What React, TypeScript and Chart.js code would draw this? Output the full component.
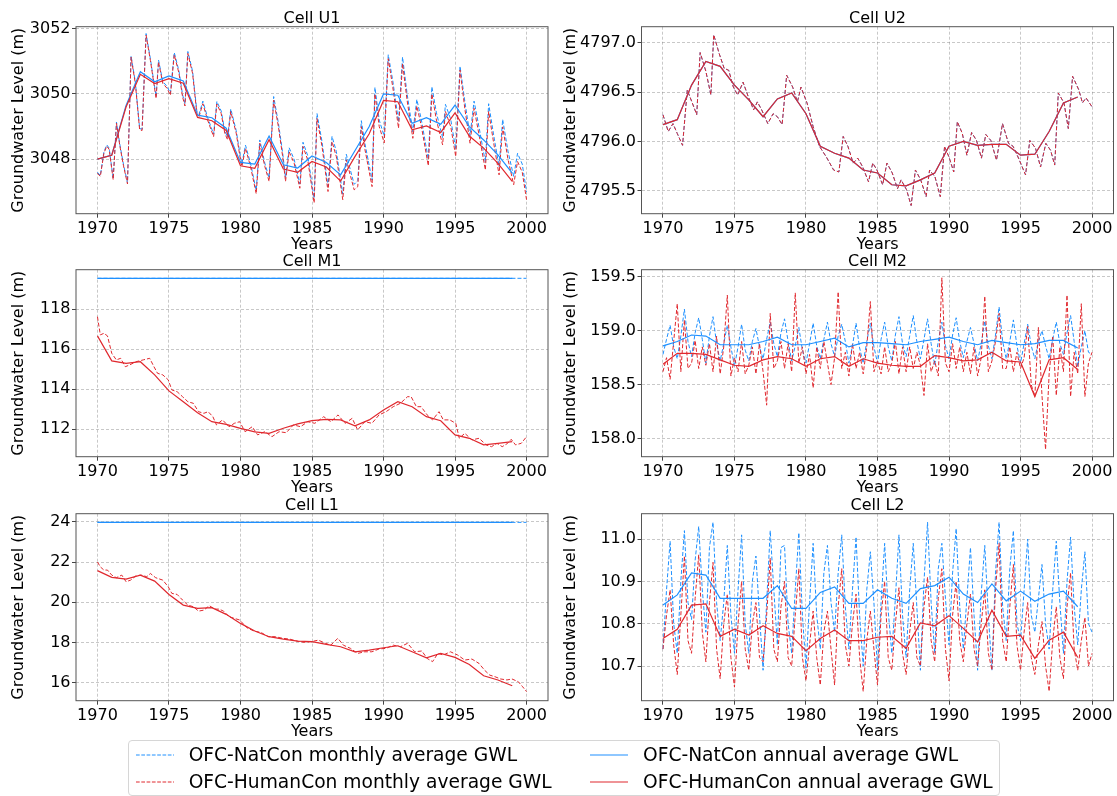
import React, { useEffect, useRef } from "react";
import { Chart, registerables } from "chart.js";

Chart.register(...registerables);

// ---------------- DATA ----------------
const annualYears = [1970, 1971, 1972, 1973, 1974, 1975, 1976, 1977, 1978, 1979, 1980, 1981, 1982, 1983, 1984, 1985, 1986, 1987, 1988, 1989, 1990, 1991, 1992, 1993, 1994, 1995, 1996, 1997, 1998, 1999];
const xTicks = [1970, 1975, 1980, 1985, 1990, 1995, 2000];

// Cell U1
const u1YTicks = [3048, 3050, 3052];
const u1MonthlyTimes = [
  1970.0, 1970.2, 1970.45, 1970.65, 1970.82, 1971.1, 1971.33, 1971.57, 1971.82, 1972.1, 1972.35, 1972.65, 1972.95,
  1973.12, 1973.4, 1973.7, 1974.1, 1974.27, 1974.57, 1974.87, 1975.1, 1975.37, 1975.7, 1975.95, 1976.12, 1976.32,
  1976.65, 1976.95, 1977.1, 1977.37, 1977.7, 1978.12, 1978.35, 1978.65, 1978.9, 1979.1, 1979.32, 1979.7, 1980.0,
  1980.1, 1980.35, 1980.7, 1981.1, 1981.35, 1981.7, 1982.0, 1982.32, 1982.65, 1982.95, 1983.15, 1983.4, 1983.75,
  1984.15, 1984.37, 1984.7, 1985.15, 1985.35, 1985.7, 1986.12, 1986.4, 1986.7, 1987.15, 1987.4, 1987.7, 1987.95,
  1988.2, 1988.45, 1988.7, 1989.2, 1989.4, 1989.7, 1990.05, 1990.33, 1990.65, 1991.05, 1991.33, 1991.65, 1992.05,
  1992.33, 1992.65, 1993.13, 1993.38, 1993.7, 1994.13, 1994.33, 1994.7, 1995.05, 1995.35, 1995.7, 1996.05, 1996.33,
  1996.7, 1997.12, 1997.35, 1997.7, 1998.08, 1998.33, 1998.7, 1999.1, 1999.37, 1999.7, 2000.0,
];
const u1HumMonthly = [
  3047.57, 3047.47, 3048.18, 3048.40, 3048.30, 3047.37, 3049.10, 3048.40, 3047.80, 3047.24, 3051.13, 3050.32, 3048.90,
  3048.88, 3051.80, 3051.03, 3049.86, 3050.98, 3050.32, 3050.17, 3049.96, 3051.20, 3050.63, 3049.91, 3049.63, 3051.24,
  3050.63, 3049.40, 3049.30, 3049.70, 3049.20, 3048.69, 3049.69, 3049.40, 3048.80, 3048.59, 3049.46, 3048.80, 3047.98,
  3047.78, 3048.33, 3047.78, 3046.94, 3048.49, 3047.78, 3047.32, 3049.81, 3049.00, 3048.08, 3047.32, 3048.23, 3047.88,
  3047.11, 3048.39, 3047.98, 3046.66, 3049.25, 3048.39, 3047.01, 3048.54, 3048.08, 3046.76, 3047.98, 3047.47, 3047.06,
  3047.16, 3049.00, 3048.30, 3047.16, 3050.00, 3049.00, 3048.50, 3051.08, 3050.20, 3048.95, 3050.93, 3049.80, 3048.64,
  3049.63, 3049.00, 3047.80, 3050.00, 3049.20, 3048.44, 3049.46, 3049.00, 3048.08, 3050.73, 3049.50, 3048.49, 3049.56,
  3048.70, 3047.67, 3049.46, 3048.50, 3047.52, 3048.99, 3048.00, 3047.22, 3047.93, 3047.60, 3046.76,
];
const u1NatMonthly = [
  3047.60, 3047.50, 3048.22, 3048.44, 3048.34, 3047.40, 3049.14, 3048.44, 3047.84, 3047.28, 3051.17, 3050.36, 3048.94,
  3048.92, 3051.85, 3051.08, 3049.92, 3051.04, 3050.38, 3050.23, 3050.02, 3051.27, 3050.70, 3049.98, 3049.70, 3051.30,
  3050.70, 3049.47, 3049.37, 3049.78, 3049.28, 3048.77, 3049.77, 3049.48, 3048.88, 3048.67, 3049.54, 3048.88, 3048.07,
  3047.87, 3048.43, 3047.88, 3047.04, 3048.59, 3047.88, 3047.43, 3049.92, 3049.11, 3048.19, 3047.44, 3048.35, 3048.00,
  3047.24, 3048.52, 3048.11, 3046.80, 3049.40, 3048.54, 3047.17, 3048.70, 3048.24, 3046.93, 3048.15, 3047.64, 3047.23,
  3047.34, 3049.18, 3048.48, 3047.36, 3050.20, 3049.20, 3048.70, 3051.20, 3050.40, 3049.15, 3051.13, 3050.00, 3048.84,
  3049.83, 3049.20, 3048.00, 3050.22, 3049.42, 3048.66, 3049.68, 3049.22, 3048.30, 3050.85, 3049.72, 3048.72, 3049.78,
  3048.93, 3047.91, 3049.70, 3048.74, 3047.77, 3049.22, 3048.25, 3047.47, 3048.18, 3047.85, 3047.00,
];
const u1NatAnnual = [3048.0, 3048.13, 3049.65, 3050.68, 3050.37, 3050.55, 3050.40, 3049.35, 3049.27, 3048.95, 3047.90, 3047.85, 3048.71, 3047.83, 3047.73, 3048.10, 3047.90, 3047.52, 3048.26, 3049.00, 3050.00, 3049.96, 3049.10, 3049.27, 3049.07, 3049.66, 3049.00, 3048.59, 3048.13, 3047.57];
const u1HumAnnual = [3048.0, 3048.12, 3049.60, 3050.60, 3050.32, 3050.47, 3050.33, 3049.28, 3049.18, 3048.88, 3047.80, 3047.72, 3048.60, 3047.70, 3047.60, 3047.93, 3047.76, 3047.33, 3048.08, 3048.78, 3049.80, 3049.76, 3048.90, 3049.02, 3048.82, 3049.42, 3048.71, 3048.34, 3047.87, 3047.32];

// Cell U2 (both scenarios coincide)
const u2YTicks = [4795.5, 4796.0, 4796.5, 4797.0];
const u2MonthlyTimes = [
  1970.0, 1970.37, 1970.7, 1971.0, 1971.37, 1971.7, 1972.05, 1972.36, 1972.6, 1973.0, 1973.35, 1973.55, 1973.93,
  1974.28, 1974.6, 1974.92, 1975.22, 1975.6, 1975.97, 1976.34, 1976.6, 1976.9, 1977.33, 1977.7, 1978.0, 1978.33,
  1978.65, 1979.07, 1979.4, 1979.65, 1980.07, 1980.5, 1980.94, 1981.43, 1981.93, 1982.3, 1982.6, 1982.93, 1983.3,
  1983.62, 1983.97, 1984.37, 1984.67, 1984.96, 1985.36, 1985.66, 1986.03, 1986.4, 1986.65, 1987.03, 1987.35, 1987.65,
  1988.02, 1988.4, 1988.64, 1989.02, 1989.39, 1989.69, 1990.0, 1990.33, 1990.58, 1990.93, 1991.25, 1991.58, 1991.92,
  1992.27, 1992.57, 1992.92, 1993.32, 1993.74, 1994.16, 1994.48, 1994.86, 1995.35, 1995.65, 1996.05, 1996.4, 1996.77,
  1997.1, 1997.39, 1997.64, 1998.04, 1998.34, 1998.64, 1999.08, 1999.33, 1999.58, 2000.0,
];
const u2Monthly = [
  4796.27, 4796.10, 4796.18, 4796.08, 4795.96, 4796.52, 4796.39, 4796.27, 4796.90, 4796.71, 4796.47, 4797.08, 4796.89,
  4796.74, 4796.72, 4796.55, 4796.47, 4796.60, 4796.45, 4796.32, 4796.40, 4796.32, 4796.18, 4796.28, 4796.25, 4796.17,
  4796.67, 4796.55, 4796.40, 4796.55, 4796.39, 4796.15, 4795.95, 4795.84, 4795.71, 4795.69, 4796.05, 4795.95, 4795.78,
  4795.83, 4795.74, 4795.59, 4795.78, 4795.71, 4795.56, 4795.78, 4795.68, 4795.52, 4795.61, 4795.51, 4795.35, 4795.71,
  4795.61, 4795.44, 4795.71, 4795.64, 4795.44, 4795.95, 4795.84, 4795.69, 4796.20, 4796.08, 4795.86, 4796.09, 4796.01,
  4795.83, 4796.07, 4796.01, 4795.81, 4796.18, 4795.98, 4795.95, 4795.83, 4795.66, 4796.01, 4795.93, 4795.74, 4795.98,
  4795.91, 4795.76, 4796.49, 4796.39, 4796.13, 4796.66, 4796.52, 4796.39, 4796.44, 4796.35,
];
const u2Annual = [4796.17, 4796.22, 4796.57, 4796.81, 4796.76, 4796.57, 4796.42, 4796.25, 4796.43, 4796.49, 4796.28, 4795.95, 4795.88, 4795.83, 4795.71, 4795.68, 4795.56, 4795.55, 4795.61, 4795.68, 4795.95, 4796.00, 4795.96, 4795.97, 4795.97, 4795.86, 4795.87, 4796.10, 4796.39, 4796.45];

// Cell M1
const m1YTicks = [112, 114, 116, 118];
const m1NatLevel = 119.55;
const m1MonthlyTimes = [
  1970.0, 1970.2, 1970.45, 1970.7, 1971.0, 1971.32, 1971.62, 1971.95, 1972.25, 1972.7, 1973.2, 1973.65, 1973.95,
  1974.2, 1974.57, 1974.95, 1975.2, 1975.57, 1975.95, 1976.32, 1976.7, 1977.07, 1977.44, 1977.74, 1978.07, 1978.32,
  1978.74, 1979.2, 1979.57, 1979.94, 1980.32, 1980.82, 1981.2, 1981.7, 1982.2, 1982.7, 1983.2, 1983.7, 1984.2, 1984.7,
  1985.2, 1985.82, 1986.32, 1986.82, 1987.31, 1987.81, 1988.19, 1988.69, 1989.19, 1989.69, 1990.18, 1990.68, 1991.18,
  1991.68, 1991.93, 1992.3, 1992.63, 1993.05, 1993.43, 1993.88, 1994.18, 1994.63, 1995.05, 1995.3, 1995.68, 1996.18,
  1996.68, 1997.18, 1997.55, 1997.93, 1998.3, 1998.68, 1998.93, 1999.23, 1999.63, 2000.0,
];
const m1HumMonthly = [
  117.63, 116.72, 116.80, 116.67, 115.80, 115.47, 115.55, 115.13, 115.22, 115.38, 115.47, 115.55, 115.13,
  114.80, 114.72, 114.47, 113.97, 113.88, 113.63, 113.38, 113.30, 112.88, 112.80, 112.88, 112.63, 112.22,
  112.47, 112.13, 112.30, 112.38, 111.88, 112.13, 111.72, 111.88, 111.63, 111.88, 111.83, 112.22, 112.13, 112.38,
  112.30, 112.63, 112.38, 112.72, 112.30, 112.55, 111.97, 112.38, 112.30, 112.72, 112.88, 113.13, 113.30,
  113.63, 113.63, 113.13, 113.13, 112.72, 112.47, 112.88, 112.47, 112.47, 112.30, 111.55, 111.80, 111.47,
  111.55, 111.22, 111.13, 111.30, 111.13, 111.30, 111.50, 111.22, 111.30, 111.63,
];
const m1HumAnnual = [116.67, 115.42, 115.30, 115.38, 114.72, 113.92, 113.38, 112.83, 112.38, 112.25, 112.05, 111.87, 111.80, 112.05, 112.27, 112.43, 112.50, 112.47, 112.17, 112.47, 112.97, 113.38, 113.13, 112.63, 112.43, 111.72, 111.55, 111.22, 111.30, 111.38];

// Cell M2 (quarterly samples)
const m2YTicks = [158.0, 158.5, 159.0, 159.5];
const m2NatMonthly = [
  158.78, 158.92, 159.05, 158.85, 158.74, 158.95, 159.20, 158.90, 158.76, 158.98, 159.12, 158.92,
  158.70, 158.95, 159.13, 158.88, 158.72, 158.88, 159.05, 158.85, 158.67, 158.85, 159.06, 158.82,
  158.72, 158.90, 159.02, 158.85, 158.74, 158.92, 159.08, 158.88, 158.76, 158.98, 159.11, 158.90,
  158.72, 158.86, 159.03, 158.82, 158.70, 158.88, 159.07, 158.86, 158.74, 158.92, 159.08, 158.88,
  158.76, 158.95, 159.06, 158.90, 158.70, 158.86, 159.07, 158.84, 158.70, 158.90, 159.07, 158.85,
  158.70, 158.92, 159.08, 158.85, 158.72, 158.96, 159.13, 158.88, 158.76, 158.95, 159.14, 158.90,
  158.74, 158.92, 159.11, 158.88, 158.68, 158.90, 159.08, 158.86, 158.74, 158.96, 159.12, 158.90,
  158.75, 158.90, 159.03, 158.88, 158.72, 158.88, 159.09, 158.86, 158.74, 158.96, 159.22, 158.90,
  158.74, 158.90, 159.10, 158.86, 158.70, 158.88, 159.06, 158.86, 158.74, 158.90, 159.00, 158.86,
  158.74, 158.92, 159.08, 158.88, 158.78, 158.98, 159.14, 158.90, 158.67, 158.85, 159.00, 158.80,
  158.78,
];
const m2HumMonthly = [
  158.62, 158.75, 158.55, 158.90, 159.25, 158.62, 159.10, 158.65, 158.70, 158.91, 158.65, 158.85,
  158.68, 158.88, 158.62, 158.95, 158.60, 158.85, 159.33, 158.58, 158.75, 158.62, 158.90, 158.60,
  158.68, 158.85, 158.60, 158.88, 158.62, 158.31, 159.16, 158.65, 158.72, 158.90, 158.65, 158.88,
  158.62, 159.35, 158.70, 158.85, 158.60, 158.78, 158.47, 158.85, 158.65, 158.90, 158.70, 158.50,
  158.75, 159.36, 158.65, 158.80, 158.58, 158.88, 158.65, 158.80, 158.60, 158.85, 159.27, 158.62,
  158.72, 158.60, 158.85, 158.62, 158.70, 158.90, 158.60, 158.85, 158.62, 158.85, 158.65, 158.80,
  158.68, 158.40, 158.88, 158.62, 158.72, 158.58, 159.49, 158.70, 158.62, 158.88, 158.65, 158.85,
  158.62, 158.80, 158.60, 158.85, 158.58, 158.75, 159.32, 158.62, 158.72, 158.90, 159.16, 158.65,
  158.65, 158.85, 158.62, 158.80, 158.65, 158.75, 159.04, 158.50, 158.39, 159.03, 158.40, 157.90,
  158.60, 158.95, 158.40, 158.85, 158.62, 159.33, 158.39, 158.80, 158.60, 159.25, 158.39, 158.70,
  158.80,
];
const m2NatAnnual = [158.86, 158.90, 158.96, 158.95, 158.87, 158.87, 158.87, 158.90, 158.94, 158.87, 158.87, 158.90, 158.93, 158.85, 158.89, 158.89, 158.88, 158.87, 158.90, 158.92, 158.94, 158.90, 158.87, 158.91, 158.89, 158.87, 158.88, 158.91, 158.91, 158.84];
const m2HumAnnual = [158.69, 158.79, 158.79, 158.78, 158.73, 158.68, 158.67, 158.73, 158.76, 158.74, 158.67, 158.74, 158.76, 158.67, 158.74, 158.70, 158.68, 158.67, 158.67, 158.77, 158.75, 158.72, 158.73, 158.80, 158.72, 158.71, 158.39, 158.73, 158.75, 158.64];

// Cell L1
const l1YTicks = [16, 18, 20, 22, 24];
const l1NatLevel = 23.97;
const l1MonthlyTimes = [
  1970.0, 1970.2, 1970.45, 1970.7, 1971.0, 1971.32, 1971.7, 1972.0, 1972.32, 1972.7, 1973.07, 1973.45, 1973.7,
  1974.07, 1974.57, 1974.95, 1975.2, 1975.57, 1975.95, 1976.32, 1976.7, 1977.07, 1977.44, 1977.82, 1978.2, 1978.5,
  1978.82, 1979.2, 1979.57, 1979.94, 1980.44, 1980.94, 1981.44, 1981.94, 1982.44, 1982.94, 1983.44, 1983.94, 1984.44,
  1984.94, 1985.44, 1985.94, 1986.31, 1986.81, 1987.19, 1987.69, 1988.19, 1988.69, 1989.19, 1989.69, 1990.18, 1990.68,
  1991.18, 1991.68, 1992.18, 1992.68, 1993.05, 1993.43, 1993.8, 1994.18, 1994.68, 1995.18, 1995.68, 1996.18, 1996.68,
  1997.06, 1997.43, 1997.8, 1998.18, 1998.63, 1998.98, 1999.43, 1999.73, 2000.0,
];
const l1HumMonthly = [
  22.00, 21.76, 21.60, 21.60, 21.35, 21.22, 21.35, 21.02, 21.10, 21.32, 21.35, 21.27, 21.43,
  21.22, 21.10, 20.77, 20.44, 20.39, 20.11, 19.86, 19.78, 19.56, 19.61, 19.83, 19.66, 19.66,
  19.56, 19.28, 19.20, 19.12, 18.74, 18.57, 18.50, 18.29, 18.29, 18.21, 18.17, 18.07, 18.01,
  18.04, 18.12, 17.96, 17.87, 18.21, 17.87, 17.71, 17.46, 17.54, 17.54, 17.68, 17.71, 17.87,
  17.79, 17.96, 17.54, 17.58, 17.21, 17.05, 17.46, 17.38, 17.54, 17.38, 17.13, 17.18, 16.96,
  16.63, 16.38, 16.30, 16.19, 16.14, 16.19, 16.05, 15.80, 15.56,
];
const l1HumAnnual = [21.57, 21.24, 21.15, 21.35, 21.05, 20.39, 19.86, 19.70, 19.73, 19.40, 18.95, 18.57, 18.29, 18.17, 18.07, 18.04, 17.91, 17.79, 17.54, 17.62, 17.74, 17.84, 17.54, 17.24, 17.46, 17.26, 16.91, 16.35, 16.14, 15.85];

// Cell L2 (quarterly samples)
const l2YTicks = [10.7, 10.8, 10.9, 11.0];
const l2NatMonthly = [
  10.74, 10.88, 10.995, 10.80, 10.73, 10.90, 11.02, 10.85, 10.81, 10.95, 11.03, 10.88,
  10.78, 10.98, 11.04, 10.85, 10.76, 10.85, 10.985, 10.82, 10.73, 10.88, 11.01, 10.80,
  10.73, 10.90, 10.96, 10.82, 10.69, 10.85, 11.02, 10.88, 10.75, 10.98, 10.985, 10.80,
  10.73, 10.88, 11.015, 10.82, 10.695, 10.85, 10.99, 10.82, 10.74, 10.92, 10.985, 10.85,
  10.78, 10.92, 11.01, 10.84, 10.74, 10.88, 11.005, 10.82, 10.70, 10.88, 10.97, 10.85,
  10.69, 10.85, 10.99, 10.83, 10.73, 10.86, 11.01, 10.82, 10.72, 10.88, 10.99, 10.84,
  10.69, 10.90, 11.04, 10.85, 10.73, 10.93, 10.99, 10.86, 10.75, 10.92, 11.025, 10.84,
  10.74, 10.86, 10.98, 10.82, 10.69, 10.87, 10.985, 10.82, 10.69, 10.92, 11.04, 10.84,
  10.76, 10.93, 11.02, 10.80, 10.76, 10.88, 11.00, 10.82, 10.78, 10.86, 10.94, 10.80,
  10.74, 10.88, 10.995, 10.85, 10.73, 10.90, 11.005, 10.84, 10.75, 10.88, 10.97, 10.80,
  10.78,
];
const l2HumMonthly = [
  10.74, 10.82, 10.88, 10.75, 10.68, 10.82, 10.96, 10.76, 10.73, 10.86, 10.963, 10.78,
  10.71, 10.85, 10.945, 10.74, 10.67, 10.80, 10.87, 10.72, 10.65, 10.80, 10.90, 10.74,
  10.69, 10.80, 10.85, 10.72, 10.71, 10.82, 10.955, 10.74, 10.71, 10.84, 10.90, 10.72,
  10.70, 10.82, 10.93, 10.72, 10.665, 10.75, 10.83, 10.72, 10.655, 10.78, 10.83, 10.74,
  10.655, 10.84, 10.93, 10.75, 10.70, 10.80, 10.87, 10.72, 10.64, 10.76, 10.83, 10.74,
  10.655, 10.82, 10.90, 10.72, 10.69, 10.80, 10.885, 10.73, 10.68, 10.78, 10.85, 10.72,
  10.70, 10.84, 10.91, 10.76, 10.71, 10.86, 10.93, 10.74, 10.665, 10.82, 10.90, 10.76,
  10.71, 10.80, 10.87, 10.74, 10.70, 10.80, 10.88, 10.73, 10.69, 10.88, 10.99, 10.76,
  10.71, 10.84, 10.94, 10.75, 10.69, 10.78, 10.85, 10.72, 10.68, 10.75, 10.805, 10.70,
  10.64, 10.76, 10.84, 10.72, 10.67, 10.84, 10.92, 10.74, 10.69, 10.76, 10.815, 10.70,
  10.73,
];
const l2NatAnnual = [10.844, 10.868, 10.92, 10.915, 10.86, 10.86, 10.86, 10.86, 10.89, 10.836, 10.836, 10.874, 10.887, 10.848, 10.848, 10.88, 10.86, 10.848, 10.883, 10.89, 10.91, 10.87, 10.85, 10.894, 10.854, 10.877, 10.853, 10.87, 10.877, 10.84];
const l2HumAnnual = [10.765, 10.787, 10.844, 10.847, 10.77, 10.787, 10.773, 10.795, 10.777, 10.77, 10.736, 10.765, 10.785, 10.76, 10.76, 10.768, 10.77, 10.742, 10.802, 10.795, 10.819, 10.789, 10.757, 10.832, 10.77, 10.773, 10.718, 10.761, 10.78, 10.72];

const quarterTimes = Array.from({ length: 121 }, (_, i) => 1970 + i / 4);

const legendLabels = [
  "OFC-NatCon monthly average GWL",
  "OFC-HumanCon monthly average GWL",
  "OFC-NatCon annual average GWL",
  "OFC-HumanCon annual average GWL",
];

// ---------------- STYLE / LAYOUT ----------------
const BLUE = "#1E90FF";
const RED = "#E0282E";
const FONT = "'DejaVu Sans', sans-serif";

const COLS = [
  { left: 0, width: 558, yAxisW: 76, padRight: 10, yTitlePad: 8.9 },
  { left: 555, width: 562, yAxisW: 86.5, padRight: 3.5, yTitlePad: 5.9 },
];
const ROW_TOPS = [0, 243, 487];
const CANVAS_H = 254;

const xy = (xs: number[], ys: number[]) => xs.map((x, i) => ({ x, y: ys[i] }));
const flat = (xs: number[], v: number) => xs.map((x) => ({ x, y: v }));

type PanelCfg = {
  title: string;
  col: number;
  row: number;
  yMin: number;
  yMax: number;
  yTicks: number[];
  dec: number;
  natMonthly: { x: number; y: number }[];
  humMonthly: { x: number; y: number }[];
  natAnnual: { x: number; y: number }[];
  humAnnual: { x: number; y: number }[];
};

const panels: PanelCfg[] = [
  {
    title: "Cell U1", col: 0, row: 0, yMin: 3046.33, yMax: 3052.06, yTicks: u1YTicks, dec: 0,
    natMonthly: xy(u1MonthlyTimes, u1NatMonthly), humMonthly: xy(u1MonthlyTimes, u1HumMonthly),
    natAnnual: xy(annualYears, u1NatAnnual), humAnnual: xy(annualYears, u1HumAnnual),
  },
  {
    title: "Cell U2", col: 1, row: 0, yMin: 4795.267, yMax: 4797.162, yTicks: u2YTicks, dec: 1,
    natMonthly: xy(u2MonthlyTimes, u2Monthly), humMonthly: xy(u2MonthlyTimes, u2Monthly),
    natAnnual: xy(annualYears, u2Annual), humAnnual: xy(annualYears, u2Annual),
  },
  {
    title: "Cell M1", col: 0, row: 1, yMin: 110.63, yMax: 119.98, yTicks: m1YTicks, dec: 0,
    natMonthly: flat([1970, 2000], m1NatLevel), humMonthly: xy(m1MonthlyTimes, m1HumMonthly),
    natAnnual: flat(annualYears, m1NatLevel), humAnnual: xy(annualYears, m1HumAnnual),
  },
  {
    title: "Cell M2", col: 1, row: 1, yMin: 157.833, yMax: 159.565, yTicks: m2YTicks, dec: 1,
    natMonthly: xy(quarterTimes, m2NatMonthly), humMonthly: xy(quarterTimes, m2HumMonthly),
    natAnnual: xy(annualYears, m2NatAnnual), humAnnual: xy(annualYears, m2HumAnnual),
  },
  {
    title: "Cell L1", col: 0, row: 2, yMin: 15.11, yMax: 24.4, yTicks: l1YTicks, dec: 0,
    natMonthly: flat([1970, 2000], l1NatLevel), humMonthly: xy(l1MonthlyTimes, l1HumMonthly),
    natAnnual: flat(annualYears, l1NatLevel), humAnnual: xy(annualYears, l1HumAnnual),
  },
  {
    title: "Cell L2", col: 1, row: 2, yMin: 10.618, yMax: 11.06, yTicks: l2YTicks, dec: 1,
    natMonthly: xy(quarterTimes, l2NatMonthly), humMonthly: xy(quarterTimes, l2HumMonthly),
    natAnnual: xy(annualYears, l2NatAnnual), humAnnual: xy(annualYears, l2HumAnnual),
  },
];

const framePlugin = {
  id: "frame",
  afterDatasetsDraw(chart: any) {
    const { ctx, chartArea } = chart;
    const { left, top, right, bottom } = chartArea;
    ctx.save();
    ctx.strokeStyle = "#555";
    ctx.lineWidth = 1;
    ctx.setLineDash([]);
    ctx.strokeRect(left, top, right - left, bottom - top);
    ctx.restore();
  },
};

const gridOpts = {
  color: "rgba(128,128,128,0.55)",
  lineWidth: 0.8,
  drawTicks: true,
  tickLength: 4,
  tickColor: "#444",
  tickWidth: 1,
  tickBorderDash: [],
};

function buildConfig(p: PanelCfg): any {
  const col = COLS[p.col];
  const line = (data: any, color: string, dashed: boolean, order: number) => ({
    data,
    borderColor: color,
    borderWidth: dashed ? 1 : 1.2,
    borderDash: dashed ? [4, 2] : [],
    pointRadius: 0,
    fill: false,
    tension: 0,
    order,
  });
  return {
    type: "line",
    data: {
      datasets: [
        line(p.natMonthly, BLUE, true, 4),
        line(p.humMonthly, RED, true, 3),
        line(p.natAnnual, BLUE, false, 2),
        line(p.humAnnual, RED, false, 1),
      ],
    },
    options: {
      responsive: false,
      animation: false,
      devicePixelRatio: 1,
      layout: { padding: { left: 0, right: col.padRight, top: 0, bottom: 0 } },
      plugins: {
        legend: { display: false },
        tooltip: { enabled: false },
        title: {
          display: true,
          text: p.title,
          fullSize: false,
          color: "#000",
          font: { family: FONT, size: 16, weight: "normal", lineHeight: 1 },
          padding: { top: 10.7, bottom: 0 },
        },
      },
      scales: {
        x: {
          type: "linear",
          min: 1968.5,
          max: 2001.5,
          afterBuildTicks: (s: any) => {
            s.ticks = xTicks.map((v) => ({ value: v }));
          },
          afterFit: (s: any) => {
            s.height = 40.3;
          },
          ticks: {
            callback: (v: any) => String(v),
            color: "#000",
            font: { family: FONT, size: 16 },
            padding: 2,
            maxRotation: 0,
            autoSkip: false,
          },
          grid: gridOpts,
          border: { display: false, dash: [3, 2] },
          title: {
            display: true,
            text: "Years",
            color: "#000",
            font: { family: FONT, size: 16, lineHeight: 1.2 },
            padding: { top: 0, bottom: 0 },
          },
        },
        y: {
          type: "linear",
          min: p.yMin,
          max: p.yMax,
          afterBuildTicks: (s: any) => {
            s.ticks = p.yTicks.map((v) => ({ value: v }));
          },
          afterFit: (s: any) => {
            s.width = col.yAxisW;
          },
          ticks: {
            callback: (v: any) => Number(v).toFixed(p.dec),
            color: "#000",
            font: { family: FONT, size: 16 },
            padding: 1.5,
            autoSkip: false,
          },
          grid: gridOpts,
          border: { display: false, dash: [3, 2] },
          title: {
            display: true,
            text: "Groundwater Level (m)",
            color: "#000",
            font: { family: FONT, size: 16, lineHeight: 1.2 },
            padding: { top: col.yTitlePad, bottom: 0 },
          },
        },
      },
    },
    plugins: [framePlugin],
  };
}

function Panel({ p }: { p: PanelCfg }) {
  const ref = useRef<HTMLCanvasElement>(null);
  const col = COLS[p.col];
  useEffect(() => {
    if (!ref.current) return;
    const chart = new Chart(ref.current, buildConfig(p));
    return () => chart.destroy();
  }, []);
  return (
    <canvas
      ref={ref}
      width={col.width}
      height={CANVAS_H}
      style={{ position: "absolute", left: col.left, top: ROW_TOPS[p.row], width: col.width, height: CANVAS_H }}
    />
  );
}

function LegendSample({ color, dashed }: { color: string; dashed: boolean }) {
  return (
    <svg width={38} height={4} style={{ position: "absolute", left: 0, top: -2 }}>
      <line x1={0} y1={2} x2={38} y2={2} stroke={color} strokeWidth={dashed ? 1 : 1.2} strokeDasharray={dashed ? "3.7 1.6" : undefined} />
    </svg>
  );
}

function Legend() {
  const items = [
    { label: legendLabels[0], color: BLUE, dashed: true, x: 7.3, y: 14.3 },
    { label: legendLabels[1], color: RED, dashed: true, x: 7.3, y: 40.7 },
    { label: legendLabels[2], color: BLUE, dashed: false, x: 461.6, y: 14.3 },
    { label: legendLabels[3], color: RED, dashed: false, x: 461.6, y: 40.7 },
  ];
  return (
    <div
      style={{
        position: "absolute",
        left: 127.7,
        top: 740,
        width: 872.3,
        height: 56,
        boxSizing: "border-box",
        border: "1px solid #d6d6d6",
        borderRadius: 4,
        background: "rgba(255,255,255,0.85)",
        fontFamily: FONT,
        fontSize: 18.67,
        color: "#000",
      }}
    >
      {items.map((it, i) => (
        <div key={i} style={{ position: "absolute", left: it.x, top: it.y }}>
          <LegendSample color={it.color} dashed={it.dashed} />
          <span style={{ position: "absolute", left: 52.7, top: 0, transform: "translateY(-50%)", whiteSpace: "nowrap", lineHeight: "1" }}>
            {it.label}
          </span>
        </div>
      ))}
    </div>
  );
}

export default function App() {
  return (
    <div style={{ position: "absolute", left: 0, top: 0, width: 1117, height: 796, overflow: "hidden", background: "#fff" }}>
      {panels.map((p, i) => (
        <Panel key={i} p={p} />
      ))}
      <Legend />
    </div>
  );
}
